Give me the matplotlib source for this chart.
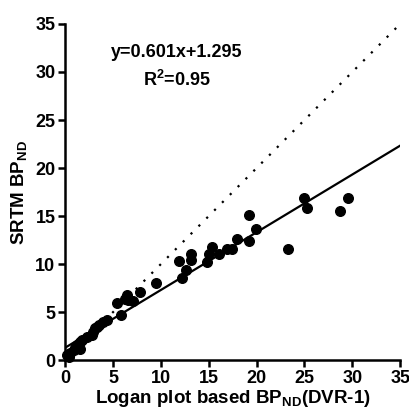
import numpy as np
import matplotlib
matplotlib.use("Agg")
import matplotlib.pyplot as plt

plt.rcParams['font.family'] = ['Liberation Sans', 'DejaVu Sans']
plt.rcParams['font.weight'] = 'bold'
plt.rcParams['mathtext.fontset'] = 'custom'
plt.rcParams['mathtext.rm'] = 'Liberation Sans:bold'
plt.rcParams['mathtext.bf'] = 'Liberation Sans:bold'

# Logan BP_ND (x) vs SRTM BP_ND (y)
logan_bp = [25.0, 25.3, 29.5, 28.7, 23.3, 19.2, 19.2, 19.9, 17.9, 17.4,
            16.9, 16.1, 15.3, 15.0, 14.8, 13.1, 13.1, 11.9, 12.6, 12.2,
            9.5, 7.8, 7.1, 6.5, 6.3, 6.6, 5.4, 5.85, 4.35, 4.0,
            3.5, 3.3, 2.95, 2.8, 2.27, 1.74, 1.5, 1.57, 1.2, 0.87,
            0.5, 0.17, 0.35, 3.1, 1.0]
srtm_bp = [16.84, 15.8, 16.9, 15.5, 11.56, 15.1, 12.4, 13.7, 12.6, 11.6,
           11.6, 11.1, 11.8, 11.0, 10.2, 10.4, 11.0, 10.3, 9.4, 8.6,
           8.0, 7.1, 6.2, 6.8, 6.4, 6.3, 5.9, 4.65, 4.2, 4.0,
           3.65, 3.5, 2.95, 2.6, 2.36, 2.08, 1.9, 1.2, 1.56, 1.04,
           0.7, 0.52, 0.35, 3.3, 1.3]
slope = 0.601
intercept = 1.295
r2 = 0.95

fig = plt.figure(figsize=(4.1, 4.13), dpi=100)
ax = fig.add_axes([0.159, 0.128, 0.817, 0.814])

line_x = np.array([0, 35])
ax.plot(line_x, line_x, color='black', linestyle=(0, (1, 4)), linewidth=1.6)
ax.plot(line_x, slope * line_x + intercept, color='black', linewidth=1.6)
ax.scatter(logan_bp, srtm_bp, s=48, color='black', zorder=3, clip_on=False)

ax.set_xlim(0, 35)
ax.set_ylim(0, 35)
ax.set_xticks(range(0, 36, 5))
ax.set_yticks(range(0, 36, 5))
for s in ['top', 'right']:
    ax.spines[s].set_visible(False)
for s in ['left', 'bottom']:
    ax.spines[s].set_linewidth(1.8)
ax.tick_params(width=1.8, length=5, labelsize=13, pad=2)
for lab in ax.get_xticklabels() + ax.get_yticklabels():
    lab.set_fontweight('bold')

ax.set_xlabel(r'Logan plot based BP$_{\mathrm{ND}}$(DVR-1)', fontsize=13.5,
              fontweight='bold', labelpad=1)
ax.set_ylabel(r'SRTM BP$_{\mathrm{ND}}$', fontsize=13.5, fontweight='bold',
              labelpad=4)

ax.text(11.7, 32, f'y={slope}x+{intercept}', ha='center', va='center',
        fontsize=13, fontweight='bold')
ax.text(11.7, 29.2, f'R$^2$={r2}', ha='center', va='center',
        fontsize=13, fontweight='bold')

fig.savefig('out.png', dpi=100)
